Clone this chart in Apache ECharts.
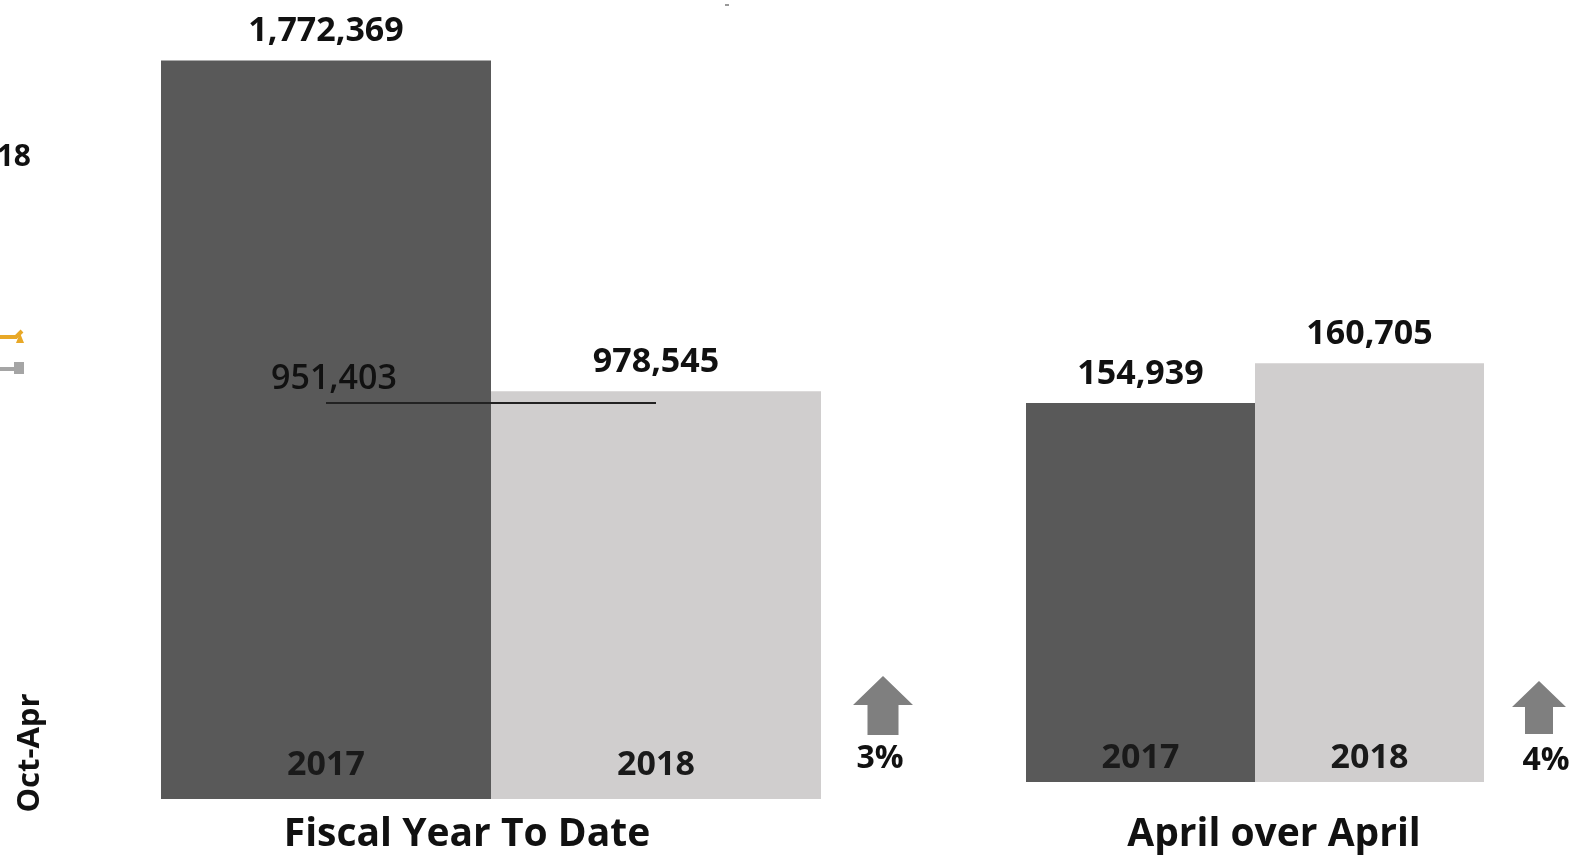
<!DOCTYPE html>
<html>
<head>
<meta charset="utf-8">
<style>
  html, body { margin: 0; padding: 0; background: #fff; }
  #chart { width: 1594px; height: 858px; }
</style>
<script src="https://cdn.jsdelivr.net/npm/echarts@6/dist/echarts.min.js"></script>
</head>
<body>
<div id="chart"></div>
<script>
// 数据
var ytdYears = ['2017', '2018'];
var ytdValues = [1772369, 978545];
var ytdReference = 951403;
var aprYears = ['2017', '2018'];
var aprValues = [154939, 160705];
var changeLabels = ['3%', '4%'];
var panelTitles = ['Fiscal Year To Date', 'April over April'];

var darkBar = '#595959';
var lightBar = '#d0cece';
var arrowGray = '#7f7f7f';
var font = '"Open Sans", "Noto Sans", sans-serif';

var myChart = echarts.init(document.getElementById('chart'));

function barData(values) {
    return values.map(function (v, i) {
        return { value: v, itemStyle: { color: i === 0 ? darkBar : lightBar } };
    });
}

var valueLabel = {
    show: true,
    position: 'top',
    distance: 12,
    color: '#111',
    fontFamily: font,
    fontWeight: 'bold',
    fontSize: 34,
    formatter: function (p) { return p.value.toLocaleString('en-US'); }
};

function catLabel(margin) {
    return {
        inside: true,
        margin: margin,
        color: '#1a1a1a',
        fontFamily: font,
        fontWeight: 'bold',
        fontSize: 34
    };
}

// 上箭头
function upArrow(cx, top, headW, headH, shaftW, bottom) {
    return {
        type: 'polygon',
        shape: {
            points: [
                [cx, top], [cx + headW / 2, top + headH], [cx + shaftW / 2, top + headH],
                [cx + shaftW / 2, bottom], [cx - shaftW / 2, bottom], [cx - shaftW / 2, top + headH],
                [cx - headW / 2, top + headH]
            ]
        },
        style: { fill: arrowGray }
    };
}

var option = {
    animation: false,
    backgroundColor: '#fff',
    title: [
        {
            text: panelTitles[0], left: 462, top: 810, textAlign: 'center',
            textStyle: { fontFamily: font, fontWeight: 'bold', fontSize: 39, color: '#111' }
        },
        {
            text: panelTitles[1], left: 1269, top: 810, textAlign: 'center',
            textStyle: { fontFamily: font, fontWeight: 'bold', fontSize: 39, color: '#111' }
        }
    ],
    grid: [
        { left: 161, width: 660, top: 49, height: 750 },
        { left: 1026, width: 458, top: 230, height: 552 }
    ],
    xAxis: [
        {
            gridIndex: 0, type: 'category', data: ytdYears, z: 10,
            axisLine: { show: false }, axisTick: { show: false }, axisLabel: catLabel(17)
        },
        {
            gridIndex: 1, type: 'category', data: aprYears, z: 10,
            axisLine: { show: false }, axisTick: { show: false }, axisLabel: catLabel(7)
        }
    ],
    yAxis: [
        { gridIndex: 0, type: 'value', min: 0, max: 1800000, show: false, splitLine: { show: false } },
        { gridIndex: 1, type: 'value', min: 100000, max: 180000, show: false, splitLine: { show: false } }
    ],
    series: [
        {
            type: 'bar', xAxisIndex: 0, yAxisIndex: 0,
            barCategoryGap: '0%',
            data: barData(ytdValues),
            label: valueLabel,
            markLine: {
                silent: true,
                symbol: 'none',
                lineStyle: { color: '#222', width: 2, type: 'solid' },
                label: {
                    show: true,
                    position: 'insideStartTop',
                    distance: [-55, 6],
                    color: '#111',
                    fontFamily: font,
                    fontWeight: 600,
                    fontSize: 34,
                    formatter: function () { return ytdReference.toLocaleString('en-US'); }
                },
                data: [[
                    { coord: [ytdYears[0], ytdReference] },
                    { coord: [ytdYears[1], ytdReference] }
                ]]
            }
        },
        {
            type: 'bar', xAxisIndex: 1, yAxisIndex: 1,
            barCategoryGap: '0%',
            data: barData(aprValues),
            label: valueLabel
        }
    ],
    graphic: [
        upArrow(883, 676, 60, 29, 31, 735),
        upArrow(1539, 681, 54, 26, 28, 734),
        {
            type: 'text', x: 880, y: 759,
            style: { text: changeLabels[0], fontFamily: font, fontWeight: 'bold', fontSize: 32, fill: '#111', align: 'center', verticalAlign: 'middle' }
        },
        {
            type: 'text', x: 1546, y: 761,
            style: { text: changeLabels[1], fontFamily: font, fontWeight: 'bold', fontSize: 32, fill: '#111', align: 'center', verticalAlign: 'middle' }
        },
        // 左侧相邻图表的残留部分
        {
            type: 'text', x: 31, y: 157,
            style: { text: '2018', fontFamily: font, fontWeight: 'bold', fontSize: 30, fill: '#111', align: 'right', verticalAlign: 'middle' }
        },
        {
            type: 'text', x: 30, y: 753, rotation: Math.PI / 2,
            style: { text: 'Oct-Apr', fontFamily: font, fontWeight: 'bold', fontSize: 31, fill: '#111', align: 'center', verticalAlign: 'middle' }
        },
        {
            type: 'polyline',
            shape: { points: [[0, 337], [16, 337], [22, 331]] },
            style: { stroke: '#e8a827', lineWidth: 4, fill: null }
        },
        {
            type: 'polygon',
            shape: { points: [[16, 343], [24, 343], [20, 333]] },
            style: { fill: '#e8a827' }
        },
        {
            type: 'line',
            shape: { x1: 0, y1: 369, x2: 15, y2: 369 },
            style: { stroke: '#a5a5a5', lineWidth: 4 }
        },
        {
            type: 'rect',
            shape: { x: 14, y: 362, width: 10, height: 12 },
            style: { fill: '#a5a5a5' }
        },
        {
            type: 'rect',
            shape: { x: 725, y: 4, width: 4, height: 2 },
            style: { fill: '#999' }
        }
    ]
};

myChart.setOption(option);
</script>
</body>
</html>
